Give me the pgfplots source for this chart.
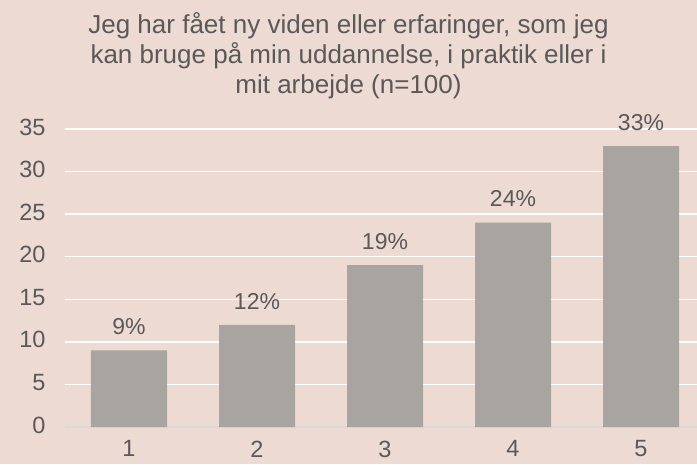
\documentclass[border=0pt]{standalone}
\usepackage{pgfplots}
\pgfplotsset{compat=1.18}
\usepackage{fontspec}
\setmainfont{Liberation Sans}
\definecolor{bg}{RGB}{237,218,211}
\definecolor{barc}{RGB}{168,164,159}
\definecolor{txt}{RGB}{89,89,89}
\definecolor{basel}{RGB}{217,217,217}
\begin{document}
\begin{tikzpicture}
\path[use as bounding box] (0,0) rectangle (697pt,464pt);
\fill[bg] (0,0) rectangle (697pt,464pt);
\node[align=center, text=txt, font=\fontsize{26}{30}\selectfont] at (348.5pt,408pt)
  {Jeg har fået ny viden eller erfaringer, som jeg\\kan bruge på min uddannelse, i praktik eller i\\mit arbejde (n=100)};
\begin{axis}[
  at={(65pt,37pt)}, anchor=south west,
  scale only axis, width=632pt, height=298pt,
  xmin=0.5, xmax=5.4375, ymin=0, ymax=35,
  ytick={0,5,...,35}, xtick={1,2,3,4,5},
  axis lines*=left,
  y axis line style={draw=none},
  x axis line style={draw=basel, line width=1.2pt},
  tick style={draw=none},
  ymajorgrids, major grid style={white, line width=1.5pt},
  tick label style={text=txt, font=\fontsize{23.5}{27}\selectfont},
  /pgf/number format/assume math mode=true,
  yticklabel style={xshift=-16pt, yshift=2pt},
  xticklabel style={yshift=-6pt},
  clip=false,
  ybar, bar width=76pt,
  nodes near coords={\pgfmathprintnumber{\pgfplotspointmeta}\%},
  nodes near coords style={text=txt, font=\fontsize{23}{27}\selectfont, yshift=12pt},
]
\addplot[fill=barc, draw=none] coordinates {(1,9) (2,12) (3,19) (4,24) (5,33)};
\end{axis}
\end{tikzpicture}
\end{document}
